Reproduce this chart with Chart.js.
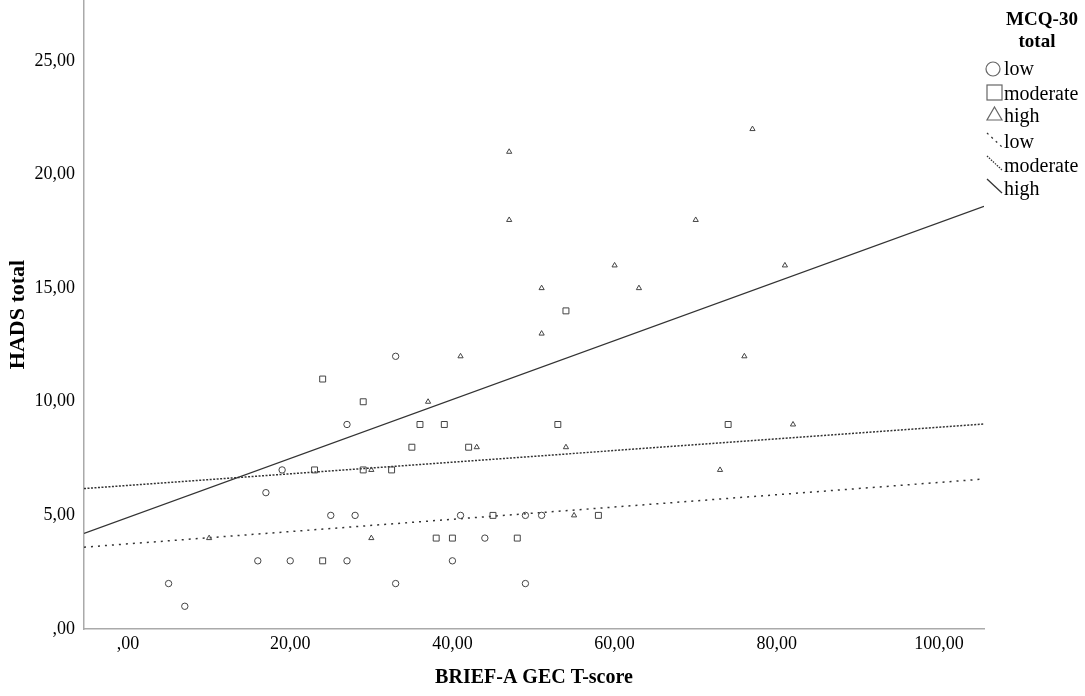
<!DOCTYPE html>
<html>
<head>
<meta charset="utf-8">
<title>HADS total by BRIEF-A GEC T-score</title>
<script src="https://cdn.jsdelivr.net/npm/chart.js@4.4.1/dist/chart.umd.min.js"></script>
<style>
  body { margin: 0; background: #fff; }
  canvas { display: block; }
</style>
</head>
<body>
<canvas id="scatter" width="1085" height="696"></canvas>
<script>
// MCQ-30 total groups
const lowX = [5, 7, 16, 17, 19, 20, 25, 27, 27, 28, 33, 33, 40, 41, 44, 49, 49, 51];
const lowY = [2, 1, 3, 6, 7, 3, 5, 9, 3, 5, 12, 2, 3, 5, 4, 5, 2, 5];

const moderateX = [23, 24, 24, 29, 29, 32.5, 35, 36, 38, 39, 40, 42, 45, 48, 53, 54, 58, 74];
const moderateY = [7, 11, 3, 10, 7, 7, 8, 9, 4, 9, 4, 8, 5, 4, 9, 14, 5, 9];

const highX = [10, 30, 30, 37, 41, 43, 47, 47, 51, 51, 54, 55, 60, 63, 70, 73, 76, 77, 81, 82];
const highY = [4, 7, 4, 10, 12, 8, 21, 18, 15, 13, 8, 5, 16, 15, 18, 7, 12, 22, 16, 9];

// fit lines: y at the left and right edge of the plot
const fitX = [-5.43, 105.55];
const fitLowY = [3.6, 6.6];
const fitModerateY = [6.18, 9.02];
const fitHighY = [4.21, 18.6];

const xTicks = [0, 20, 40, 60, 80, 100];
const yTicks = [0, 5, 10, 15, 20, 25];

const groupNames = ['low', 'moderate', 'high'];
const legendTitle = ['MCQ-30', 'total'];

const serif = '"Liberation Serif", "Times New Roman", serif';

function pts(xs, ys) {
    return xs.map((x, i) => ({ x: x, y: ys[i] }));
}

function commaFmt(v) {
    return v === 0 ? ',00' : v + ',00';
}

const legendPlugin = {
    id: 'groupLegend',
    afterDraw(chart) {
        const ctx = chart.ctx;
        ctx.save();
        ctx.fillStyle = '#000';
        ctx.textBaseline = 'alphabetic';
        ctx.textAlign = 'center';
        ctx.font = 'bold 19px ' + serif;
        ctx.fillText(legendTitle[0], 1042, 25);
        ctx.fillText(legendTitle[1], 1037, 47);

        ctx.textAlign = 'left';
        ctx.font = '20px ' + serif;
        const baselines = [75, 100, 122, 148, 172, 195];
        const labels = groupNames.concat(groupNames);
        labels.forEach((t, i) => ctx.fillText(t, 1004, baselines[i]));

        ctx.strokeStyle = '#666';
        ctx.lineWidth = 1.2;
        // circle
        ctx.beginPath();
        ctx.arc(993, 69, 7, 0, Math.PI * 2);
        ctx.stroke();
        // square
        ctx.strokeRect(987, 85, 15, 15);
        // triangle
        ctx.beginPath();
        ctx.moveTo(994.5, 107);
        ctx.lineTo(1002, 120);
        ctx.lineTo(987, 120);
        ctx.closePath();
        ctx.stroke();

        // line samples
        ctx.strokeStyle = '#333';
        ctx.lineWidth = 1.3;
        const samples = [[2, 4], [1.5, 1.2], []];
        samples.forEach((dash, i) => {
            const y0 = 133 + i * 23;
            ctx.setLineDash(dash);
            ctx.beginPath();
            ctx.moveTo(987, y0);
            ctx.lineTo(1002, y0 + 14);
            ctx.stroke();
        });
        ctx.restore();
    }
};

const ctx = document.getElementById('scatter').getContext('2d');
const chart = new Chart(ctx, {
    type: 'scatter',
    data: {
        datasets: [{
            label: 'low',
            data: pts(lowX, lowY),
            pointStyle: 'circle',
            pointRadius: 3.2,
            backgroundColor: 'rgba(0,0,0,0)',
            borderColor: '#444',
            borderWidth: 1
        }, {
            label: 'moderate',
            data: pts(moderateX, moderateY),
            pointStyle: 'rect',
            pointRadius: 4.2,
            backgroundColor: 'rgba(0,0,0,0)',
            borderColor: '#444',
            borderWidth: 1
        }, {
            label: 'high',
            data: pts(highX, highY),
            pointStyle: 'triangle',
            pointRadius: 3,
            backgroundColor: 'rgba(0,0,0,0)',
            borderColor: '#444',
            borderWidth: 1
        }, {
            label: 'low fit',
            data: pts(fitX, fitLowY),
            showLine: true,
            pointRadius: 0,
            borderColor: '#333',
            borderWidth: 1.5,
            borderDash: [2, 5]
        }, {
            label: 'moderate fit',
            data: pts(fitX, fitModerateY),
            showLine: true,
            pointRadius: 0,
            borderColor: '#333',
            borderWidth: 1.5,
            borderDash: [2, 1.5]
        }, {
            label: 'high fit',
            data: pts(fitX, fitHighY),
            showLine: true,
            pointRadius: 0,
            borderColor: '#333',
            borderWidth: 1.3
        }]
    },
    options: {
        responsive: false,
        animation: false,
        layout: {
            autoPadding: false,
            padding: { left: 0, right: 101, top: 0, bottom: 0 }
        },
        plugins: {
            legend: { display: false },
            tooltip: { enabled: false }
        },
        scales: {
            x: {
                type: 'linear',
                min: fitX[0],
                max: fitX[1],
                grid: { display: false, drawTicks: false },
                border: { display: true, color: '#aaa', width: 1.5 },
                afterBuildTicks: (scale) => {
                    scale.ticks = xTicks.map(v => ({ value: v }));
                },
                afterFit: (scale) => {
                    scale.height = 67;
                    scale.paddingLeft = 0;
                    scale.paddingRight = 0;
                },
                ticks: {
                    padding: 4,
                    color: '#000',
                    font: { family: serif, size: 18 },
                    callback: (v) => commaFmt(v)
                },
                title: {
                    display: true,
                    text: 'BRIEF-A GEC T-score',
                    color: '#000',
                    font: { family: serif, size: 20, weight: 'bold' },
                    padding: { top: 0, bottom: 6 }
                }
            },
            y: {
                type: 'linear',
                min: 0,
                max: 27.68,
                grid: { display: false, drawTicks: false },
                border: { display: true, color: '#aaa', width: 1.5 },
                afterBuildTicks: (scale) => {
                    scale.ticks = yTicks.map(v => ({ value: v }));
                },
                afterFit: (scale) => {
                    scale.width = 84;
                    scale.paddingTop = 0;
                    scale.paddingBottom = 0;
                },
                ticks: {
                    padding: 9,
                    color: '#000',
                    font: { family: serif, size: 18 },
                    callback: (v) => commaFmt(v)
                },
                title: {
                    display: true,
                    text: 'HADS total',
                    color: '#000',
                    font: { family: serif, size: 22, weight: 'bold' },
                    padding: { top: 5, bottom: 0 }
                }
            }
        }
    },
    plugins: [legendPlugin]
});
</script>
</body>
</html>
